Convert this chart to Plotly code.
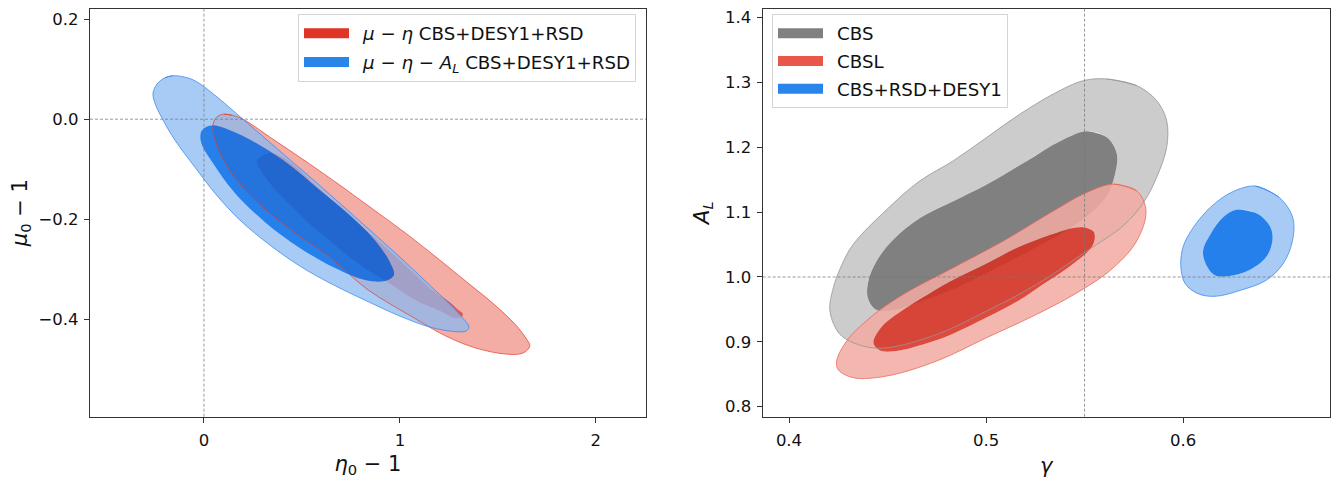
import plotly.graph_objects as go

# ---------------- left panel: (eta0-1, mu0-1) contour boundaries ----------------
mueta_outer_x = [0.102, 0.143, 0.199, 0.352, 0.526, 0.694, 0.862, 1.036, 1.204, 1.342, 1.485, 1.587, 1.643,
                 1.663, 1.628, 1.541, 1.388, 1.235, 1.074, 0.832, 0.643, 0.474, 0.301, 0.168, 0.082, 0.046,
                 0.051, 0.071]
mueta_outer_y = [0.01, 0.008, 0.0, -0.04, -0.086, -0.132, -0.18, -0.23, -0.282, -0.326, -0.372, -0.41, -0.438,
                 -0.454, -0.468, -0.47, -0.458, -0.434, -0.398, -0.34, -0.276, -0.23, -0.176, -0.122, -0.068,
                 -0.022, -0.004, 0.006]
mueta_inner_x = [0.276, 0.327, 0.413, 0.592, 0.796, 1.0, 1.179, 1.255, 1.296, 1.321, 1.316, 1.281, 1.204, 1.077,
                 0.934, 0.796, 0.668, 0.541, 0.439, 0.347, 0.296, 0.27]
mueta_inner_y = [-0.078, -0.068, -0.078, -0.14, -0.21, -0.282, -0.346, -0.366, -0.381, -0.389, -0.396, -0.398,
                 -0.384, -0.362, -0.326, -0.292, -0.252, -0.21, -0.172, -0.134, -0.106, -0.088]

muetaAL_outer_x = [-0.199, -0.158, -0.107, -0.046, 0.056, 0.199, 0.388, 0.592, 0.796, 1.0, 1.179, 1.265, 1.321,
                   1.352, 1.337, 1.281, 1.153, 1.0, 0.832, 0.643, 0.49, 0.337, 0.184, 0.056, -0.046, -0.148,
                   -0.214, -0.25, -0.26, -0.24]
muetaAL_outer_y = [0.083, 0.087, 0.085, 0.077, 0.048, 0.0, -0.064, -0.133, -0.204, -0.276, -0.342, -0.374,
                   -0.398, -0.416, -0.424, -0.425, -0.416, -0.394, -0.364, -0.328, -0.294, -0.252, -0.202,
                   -0.148, -0.096, -0.042, 0.002, 0.032, 0.052, 0.07]
muetaAL_inner_x = [0.041, 0.133, 0.286, 0.439, 0.592, 0.745, 0.872, 0.949, 0.969, 0.923, 0.821, 0.668, 0.49,
                   0.311, 0.158, 0.046, -0.015, -0.01]
muetaAL_inner_y = [-0.012, -0.022, -0.052, -0.092, -0.142, -0.192, -0.242, -0.286, -0.312, -0.324, -0.322,
                   -0.298, -0.258, -0.206, -0.148, -0.088, -0.046, -0.022]

# ---------------- right panel: (gamma, A_L) contour boundaries ----------------
cbs_outer_x = [0.5613, 0.5765, 0.5866, 0.5917, 0.5917, 0.5866, 0.58, 0.57, 0.5511, 0.5257, 0.5004, 0.475,
               0.4496, 0.4377, 0.4259, 0.4208, 0.4225, 0.427, 0.4326, 0.4496, 0.4665, 0.4834, 0.5004, 0.5173,
               0.5342, 0.5494]
cbs_outer_y = [1.3053, 1.2951, 1.272, 1.2411, 1.1998, 1.1535, 1.115, 1.08, 1.04, 0.9887, 0.9476, 0.9115,
               0.8908, 0.8934, 0.9115, 0.9476, 0.9835, 1.02, 1.0504, 1.104, 1.1483, 1.1792, 1.2153, 1.2513,
               1.2822, 1.3027]
cbs_inner_x = [0.5511, 0.5613, 0.5664, 0.5655, 0.5613, 0.553, 0.54, 0.522, 0.503, 0.484, 0.4665, 0.453, 0.444,
               0.44, 0.4403, 0.4445, 0.453, 0.4665, 0.4834, 0.5004, 0.5206, 0.5376]
cbs_inner_y = [1.2247, 1.2154, 1.1897, 1.1588, 1.125, 1.098, 1.07, 1.04, 1.01, 0.982, 0.962, 0.949, 0.95,
               0.968, 0.994, 1.0247, 1.0578, 1.0909, 1.1167, 1.1425, 1.1785, 1.2093]

cbsl_outer_x = [0.5647, 0.5765, 0.5812, 0.5765, 0.5647, 0.5477, 0.5257, 0.5003, 0.475, 0.4496, 0.4327, 0.425,
                0.4242, 0.4293, 0.4411, 0.458, 0.4834, 0.5088, 0.5342, 0.5511]
cbsl_outer_y = [1.1432, 1.1329, 1.102, 1.0556, 1.0144, 0.9784, 0.9424, 0.9064, 0.8705, 0.8473, 0.8447, 0.857,
                0.8705, 0.9014, 0.9371, 0.9732, 1.0144, 1.0556, 1.1019, 1.1303]
cbsl_inner_x = [0.5501, 0.5545, 0.5552, 0.5535, 0.5416, 0.529, 0.5162, 0.5, 0.4824, 0.468, 0.4536, 0.446,
                0.4429, 0.447, 0.4571, 0.47, 0.4824, 0.5, 0.5162, 0.533, 0.545]
cbsl_inner_y = [1.0762, 1.07, 1.0607, 1.0453, 1.0144, 0.989, 0.963, 0.937, 0.9114, 0.896, 0.8856, 0.887,
                0.8985, 0.923, 0.9475, 0.972, 0.9938, 1.02, 1.0453, 1.065, 1.076]

all_outer_x = [0.6368, 0.6486, 0.6556, 0.6556, 0.6508, 0.6422, 0.6292, 0.6162, 0.6076, 0.6011, 0.5989, 0.6,
               0.6054, 0.6141, 0.6249]
all_outer_y = [1.1402, 1.1233, 1.0925, 1.0565, 1.0205, 0.9949, 0.9795, 0.9702, 0.9743, 0.9897, 1.0154, 1.0462,
               1.0771, 1.1079, 1.131]
all_inner_x = [0.627, 0.6378, 0.6443, 0.6454, 0.6422, 0.6335, 0.6227, 0.6162, 0.6115, 0.6102, 0.6141, 0.6205]
all_inner_y = [1.1038, 1.0976, 1.0771, 1.0565, 1.0308, 1.0103, 1.001, 1.0026, 1.0205, 1.0411, 1.0668, 1.0925]

# reference lines
left_ref_x, left_ref_y = 0.0, 0.0
right_ref_x, right_ref_y = 0.55, 1.0

left_xticks = [0, 1, 2]
left_yticks = [0.2, 0.0, -0.2, -0.4]
left_yticklabels = ["0.2", "0.0", "\u22120.2", "\u22120.4"]
right_xticks = [0.4, 0.5, 0.6]
right_yticks = [0.8, 0.9, 1.0, 1.1, 1.2, 1.3, 1.4]

legend_left = ["<i>\u03bc</i> \u2212 <i>\u03b7</i> CBS+DESY1+RSD",
               "<i>\u03bc</i> \u2212 <i>\u03b7</i> \u2212 <i>A<sub>L</sub></i> CBS+DESY1+RSD"]
legend_right = ["CBS", "CBSL", "CBS+RSD+DESY1"]


def closed(xs, ys):
    return list(xs) + list(xs[:2]), list(ys) + list(ys[:2])


def band(ox, oy, ix, iy):
    cx, cy = closed(ox, oy)
    rx, ry = closed(ix[::-1], iy[::-1])
    return cx + [None] + rx, cy + [None] + ry


def rgba(rgb, a):
    return "rgba(%d,%d,%d,%.2f)" % (rgb[0], rgb[1], rgb[2], a)


fig = go.Figure()


def add_fills(ox, oy, ix, iy, out_rgb, a_out, in_rgb, a_in, axis):
    bx, by = band(ox, oy, ix, iy)
    fig.add_trace(go.Scatter(x=bx, y=by, mode="lines", fill="toself",
                             line=dict(width=0, shape="spline", smoothing=1.0),
                             fillcolor=rgba(out_rgb, a_out), hoverinfo="skip", showlegend=False,
                             xaxis=axis[0], yaxis=axis[1]))
    cx, cy = closed(ix, iy)
    fig.add_trace(go.Scatter(x=cx, y=cy, mode="lines", fill="toself",
                             line=dict(width=0, shape="spline", smoothing=1.0),
                             fillcolor=rgba(in_rgb, a_in), hoverinfo="skip", showlegend=False,
                             xaxis=axis[0], yaxis=axis[1]))


def add_edge(ox, oy, rgb, a, axis):
    lx, ly = closed(ox, oy)
    fig.add_trace(go.Scatter(x=lx, y=ly, mode="lines",
                             line=dict(width=1.0, shape="spline", smoothing=1.0, color=rgba(rgb, a)),
                             hoverinfo="skip", showlegend=False, xaxis=axis[0], yaxis=axis[1]))


def add_legend_item(name, color, legend, axis):
    fig.add_trace(go.Scatter(x=[None], y=[None], mode="lines", line=dict(width=14, color=color),
                             name="\u2002" + name, legend=legend, legendgroup=name, showlegend=True,
                             xaxis=axis[0], yaxis=axis[1]))


L = ("x", "y")
R = ("x2", "y2")
RED_L = (227, 60, 40)
BLUE_OUT = (139, 186, 242)
BLUE_IN = (0, 106, 232)

# left panel
add_fills(mueta_outer_x, mueta_outer_y, mueta_inner_x, mueta_inner_y, RED_L, 0.42, (225, 55, 40), 0.85, L)
add_fills(muetaAL_outer_x, muetaAL_outer_y, muetaAL_inner_x, muetaAL_inner_y, BLUE_OUT, 0.75, BLUE_IN, 0.85, L)
add_edge(mueta_outer_x, mueta_outer_y, RED_L, 0.7, L)
add_edge(muetaAL_outer_x, muetaAL_outer_y, (55, 135, 235), 0.75, L)
add_legend_item(legend_left[0], "#e03426", "legend", L)
add_legend_item(legend_left[1], "#2a85ea", "legend", L)

# right panel
add_fills(cbs_outer_x, cbs_outer_y, cbs_inner_x, cbs_inner_y, (128, 128, 128), 0.4, (128, 128, 128), 1.0, R)
add_fills(cbsl_outer_x, cbsl_outer_y, cbsl_inner_x, cbsl_inner_y, (241, 171, 163), 0.86, (216, 48, 33), 0.87, R)
add_fills(all_outer_x, all_outer_y, all_inner_x, all_inner_y, BLUE_OUT, 0.75, BLUE_IN, 0.85, R)
add_edge(cbs_outer_x, cbs_outer_y, (150, 150, 150), 0.8, R)
add_edge(cbsl_outer_x, cbsl_outer_y, (232, 100, 85), 0.75, R)
add_edge(all_outer_x, all_outer_y, (55, 135, 235), 0.75, R)
add_legend_item(legend_right[0], "#808080", "legend2", R)
add_legend_item(legend_right[1], "#e8574a", "legend2", R)
add_legend_item(legend_right[2], "#2a85ea", "legend2", R)

dash = dict(color="rgba(120,120,120,0.95)", width=0.8, dash="3px,2px")
fig.add_shape(type="line", xref="x", yref="y domain", x0=left_ref_x, x1=left_ref_x, y0=0, y1=1, line=dash)
fig.add_shape(type="line", xref="x domain", yref="y", x0=0, x1=1, y0=left_ref_y, y1=left_ref_y, line=dash)
fig.add_shape(type="line", xref="x2", yref="y2 domain", x0=right_ref_x, x1=right_ref_x, y0=0, y1=1, line=dash)
fig.add_shape(type="line", xref="x2 domain", yref="y2", x0=0, x1=1, y0=right_ref_y, y1=right_ref_y, line=dash)

# the page body has an 8px margin: size and place everything relative to that offset
OFF = 8
W, H = 1341 - OFF, 478 - OFF


def px_x(p):
    return (p - OFF) / W


def px_y(p):
    return 1 - (p - OFF) / H


font = "DejaVu Sans"
txt = "#111111"
axcommon = dict(showgrid=False, zeroline=False, showline=True, linecolor="#333333", linewidth=1.2, mirror=True,
                ticks="outside", ticklen=5, tickwidth=1, tickcolor="#333333", automargin=False,
                tickfont=dict(family=font, size=16.5, color=txt))
tfont = dict(family=font, size=21, color=txt)
lfont = dict(family=font, size=18.2, color=txt)

fig.update_layout(
    width=W, height=H, margin=dict(l=0, r=0, t=0, b=0), paper_bgcolor="white", plot_bgcolor="white",
    font=dict(family=font, color=txt),
    xaxis=dict(domain=[px_x(90), px_x(646)], range=[-0.5816, 2.256], tickvals=left_xticks,
               ticktext=[str(v) for v in left_xticks], ticklabelstandoff=3,
               title=dict(text="<i>\u03b7</i><sub>0</sub> \u2212 1", font=tfont, standoff=12),
               anchor="y", **axcommon),
    yaxis=dict(domain=[px_y(416.7), px_y(8.6)], range=[-0.5953, 0.2213], tickvals=left_yticks,
               ticktext=left_yticklabels, ticklabelstandoff=2,
               title=dict(text="<i>\u03bc</i><sub>0</sub> \u2212 1", font=tfont, standoff=9),
               anchor="x", **axcommon),
    xaxis2=dict(domain=[px_x(762.6), px_x(1329.6)], range=[0.3866, 0.6744], tickvals=right_xticks,
                ticktext=["%.1f" % v for v in right_xticks], ticklabelstandoff=3,
                title=dict(text="<i>\u03b3</i>", font=tfont, standoff=12),
                anchor="y2", **axcommon),
    yaxis2=dict(domain=[px_y(416.7), px_y(8.6)], range=[0.7846, 1.4138], tickvals=right_yticks,
                ticktext=["%.1f" % v for v in right_yticks], ticklabelstandoff=2,
                title=dict(text="<i>A<sub>L</sub></i>", font=tfont, standoff=9),
                anchor="x2", **axcommon),
    legend=dict(x=px_x(636), y=px_y(14), xanchor="right", yanchor="top", bgcolor="rgba(255,255,255,0.8)",
                bordercolor="#d4d4d4", borderwidth=1, font=lfont, tracegroupgap=2, itemwidth=45),
    legend2=dict(x=px_x(772), y=px_y(14), xanchor="left", yanchor="top", bgcolor="rgba(255,255,255,0.8)",
                 bordercolor="#d4d4d4", borderwidth=1, font=lfont, tracegroupgap=1, itemwidth=45),
)

fig.write_html("out.html")
